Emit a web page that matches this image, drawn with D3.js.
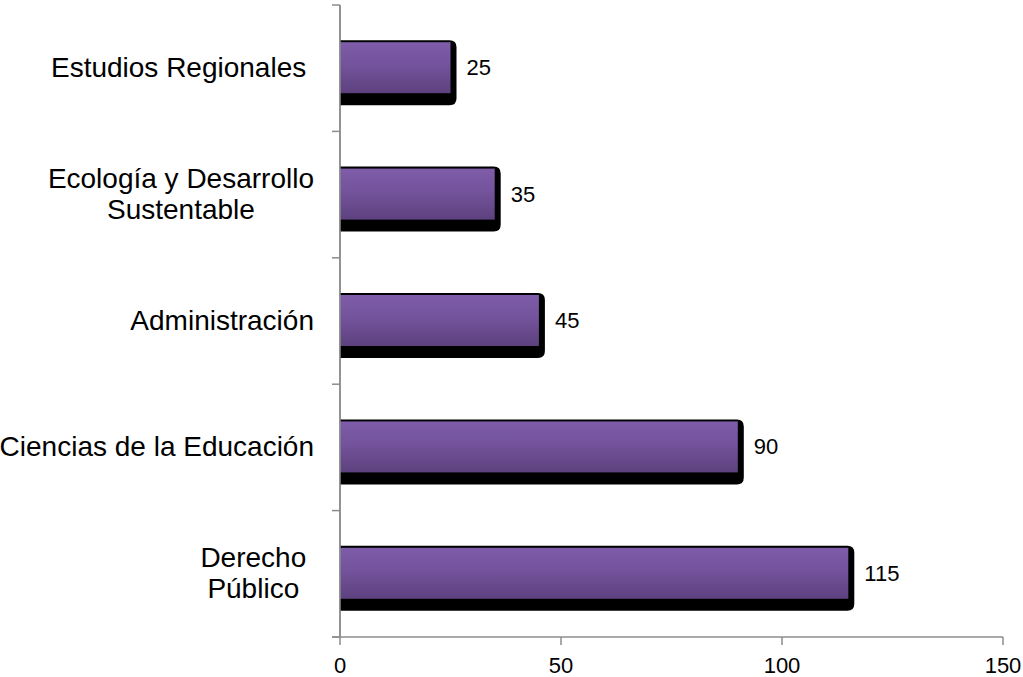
<!DOCTYPE html>
<html>
<head>
<meta charset="utf-8">
<script src="https://cdn.jsdelivr.net/npm/d3@7"></script>
<style>
  body { margin: 0; background: #fff; }
  text { font-family: "Liberation Sans", Arial, sans-serif; fill: #000; }
</style>
</head>
<body>
<div id="chart"></div>
<script>
// datos del gráfico
const categories = [
  ['Estudios Regionales '],
  ['Ecología y Desarrollo', 'Sustentable'],
  ['Administración'],
  ['Ciencias de la Educación'],
  ['Derecho ', 'Público ']
];
const values = [25, 35, 45, 90, 115];
const xTicks = [0, 50, 100, 150];

const width = 1023, height = 677;

const svg = d3.select('#chart').append('svg')
  .attr('width', width).attr('height', height);

// gradiente morado de las barras
const grad = svg.append('defs').append('linearGradient')
  .attr('id', 'barGrad').attr('x1', 0).attr('y1', 0).attr('x2', 0).attr('y2', 1);
grad.append('stop').attr('offset', '0%').attr('stop-color', '#7e5ca9');
grad.append('stop').attr('offset', '45%').attr('stop-color', '#73539b');
grad.append('stop').attr('offset', '100%').attr('stop-color', '#5d417e');

const x = d3.scaleLinear().domain([0, 150]).range([340, 1003]);
const y = d3.scaleBand().domain(d3.range(values.length)).range([5, 637]);

// ejes
const axisColor = '#8c8c8c';
svg.append('line').attr('x1', x(0)).attr('x2', x(0)).attr('y1', 5).attr('y2', 637)
  .attr('stroke', axisColor).attr('stroke-width', 1.5);
svg.append('line').attr('x1', x(0) - 8).attr('x2', x(150)).attr('y1', 637).attr('y2', 637)
  .attr('stroke', axisColor).attr('stroke-width', 1.5);

// marcas eje y (límites de categoría)
const yBounds = d3.range(values.length + 1).map(i => 5 + i * y.step());
svg.selectAll('.ytick').data(yBounds).enter().append('line')
  .attr('x1', x(0) - 8).attr('x2', x(0)).attr('y1', d => d).attr('y2', d => d)
  .attr('stroke', axisColor).attr('stroke-width', 1.5);

// marcas eje x
svg.selectAll('.xtick').data(xTicks).enter().append('line')
  .attr('x1', d => x(d)).attr('x2', d => x(d)).attr('y1', 637).attr('y2', 645)
  .attr('stroke', axisColor).attr('stroke-width', 1.5);
svg.selectAll('.xlabel').data(xTicks).enter().append('text')
  .attr('x', d => x(d)).attr('y', 673).attr('text-anchor', 'middle')
  .style('font-size', '22px').text(d => d);

// barras con sombra (sombra negra redondeada a la derecha y abajo)
function shadowPath(w) {
  const x0 = x(0), r = 7, h = 65, x1 = x0 + w + 6;
  return `M${x0},0 H${x1 - r} Q${x1},0 ${x1},${r} V${h - r} Q${x1},${h} ${x1 - r},${h} H${x0} Z`;
}
const bars = svg.selectAll('.bar').data(values).enter().append('g')
  .attr('transform', (d, i) => `translate(0,${y(i) + y.bandwidth() / 2 - 28})`);

bars.append('path')
  .attr('d', d => shadowPath(x(d) - x(0)))
  .attr('fill', '#000');
bars.append('rect')
  .attr('x', x(0)).attr('y', 2)
  .attr('width', d => x(d) - x(0)).attr('height', 51)
  .attr('fill', 'url(#barGrad)');

bars.append('text')
  .attr('x', d => x(d) + 16).attr('y', 35)
  .style('font-size', '22px').text(d => d);

// redibujar eje vertical encima
svg.append('line').attr('x1', x(0)).attr('x2', x(0)).attr('y1', 5).attr('y2', 637)
  .attr('stroke', axisColor).attr('stroke-width', 1.5);

// etiquetas de categoría
const labelRight = 314;
const fs = 28, lh = 31;
const lab = svg.selectAll('.cat').data(categories).enter().append('text')
  .attr('xml:space', 'preserve')
  .style('font-size', fs + 'px');
lab.each(function(lines, i) {
  const t = d3.select(this);
  const cy = y(i) + y.bandwidth() / 2;
  const y0 = cy - (lines.length - 1) * lh / 2 + 9;
  const widths = lines.map(s => {
    const tt = svg.append('text').attr('xml:space', 'preserve').style('font-size', fs + 'px').text(s);
    const w = tt.node().getComputedTextLength();
    tt.remove();
    return w;
  });
  const maxW = d3.max(widths);
  lines.forEach((s, j) => {
    t.append('tspan')
      .attr('x', labelRight - maxW / 2)
      .attr('y', y0 + j * lh)
      .attr('text-anchor', 'middle')
      .text(s);
  });
});
</script>
</body>
</html>
